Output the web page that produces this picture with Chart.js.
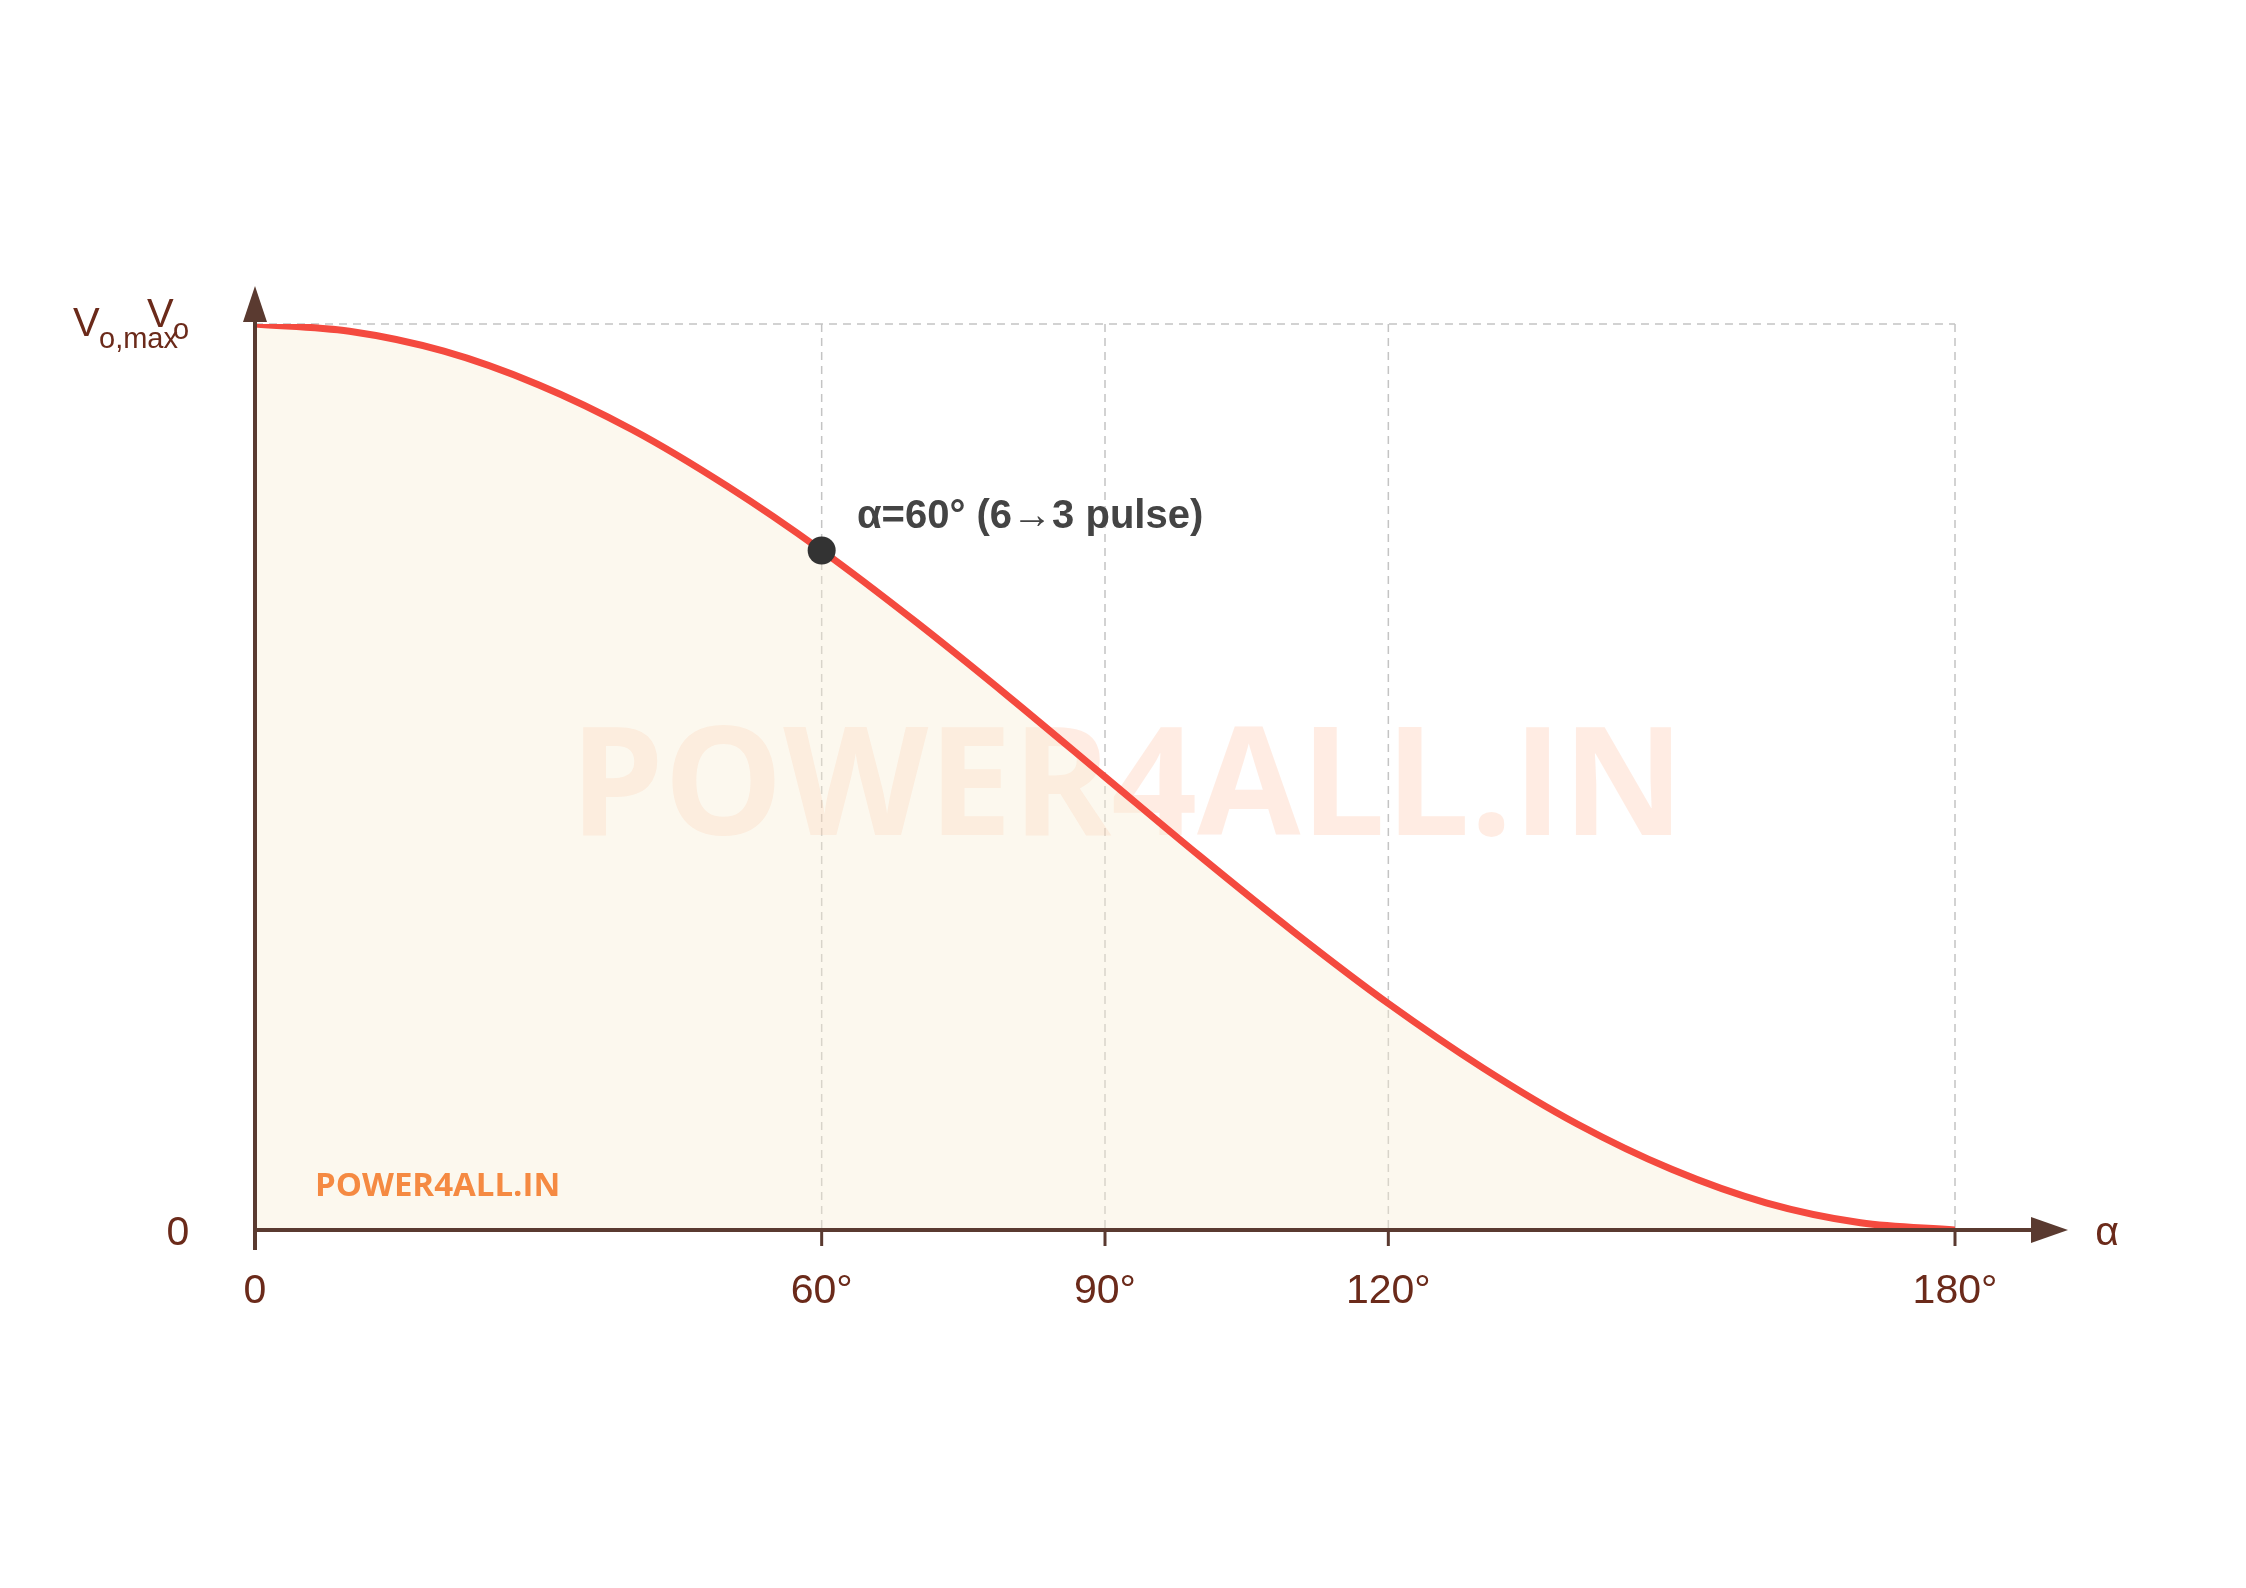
<!DOCTYPE html>
<html><head><meta charset="utf-8">
<script src="https://cdn.jsdelivr.net/npm/chart.js@4.4.0/dist/chart.umd.min.js"></script>
<style>html,body{margin:0;padding:0;background:#fff}</style></head>
<body><canvas id="c" width="2246" height="1588"></canvas>
<script>
const alphaDeg = [0,10,20,30,40,50,60,70,80,90,100,110,120,130,140,150,160,170,180];
const voRatio = [1,0.992,0.970,0.933,0.883,0.821,0.75,0.671,0.587,0.5,0.413,0.329,0.25,0.179,0.117,0.067,0.030,0.008,0];
const xTicks = [0,60,90,120,180];
const xTickLabels = ['0','60°','90°','120°','180°'];
const markAlpha = 60, markValue = 0.75;
const markLabel = 'α=60° (6→3 pulse)';

const brown = '#5a3a30', txt = '#6b2a1a';
const deco = {
  id:'deco',
  beforeDatasetsDraw(ch){
    const c=ch.ctx, xs=ch.scales.x, ys=ch.scales.y;
    c.save();
    c.strokeStyle='#c4c4c4'; c.lineWidth=1.5; c.setLineDash([8,6]);
    const yt=ys.getPixelForValue(1), yb=ys.getPixelForValue(0);
    xTicks.forEach(v=>{const x=xs.getPixelForValue(v); c.beginPath(); c.moveTo(x,yt); c.lineTo(x,yb); c.stroke();});
    c.beginPath(); c.moveTo(xs.getPixelForValue(0),yt); c.lineTo(xs.getPixelForValue(180),yt); c.stroke();
    c.setLineDash([]);
    c.fillStyle='rgba(255,140,90,0.17)';
    c.font='bold 150px "Open Sans", sans-serif';
    c.textAlign='center'; c.textBaseline='middle';
    c.fillText('POWER4ALL.IN',1127,792);
    c.restore();
  },
  afterDraw(ch){
    const c=ch.ctx, xs=ch.scales.x, ys=ch.scales.y;
    const x0=xs.getPixelForValue(0), y0=ys.getPixelForValue(0);
    c.save();
    c.strokeStyle=brown; c.fillStyle=brown; c.lineWidth=4;
    c.beginPath(); c.moveTo(x0,y0); c.lineTo(2045,y0); c.stroke();
    c.beginPath(); c.moveTo(2068,y0); c.lineTo(2031,y0-13); c.lineTo(2031,y0+13); c.closePath(); c.fill();
    c.beginPath(); c.moveTo(x0,y0+20); c.lineTo(x0,310); c.stroke();
    c.beginPath(); c.moveTo(x0,286); c.lineTo(x0-12,322); c.lineTo(x0+12,322); c.closePath(); c.fill();
    c.lineWidth=3;
    xTicks.forEach(v=>{const x=xs.getPixelForValue(v); c.beginPath(); c.moveTo(x,y0); c.lineTo(x,y0+16); c.stroke();});
    c.fillStyle=txt; c.textBaseline='middle';
    c.font='41px "Liberation Sans", sans-serif';
    c.textAlign='center';
    xTicks.forEach((v,i)=>c.fillText(xTickLabels[i],xs.getPixelForValue(v),1292));
    c.fillText('α',2107,1234); c.fillText('0',178,1234);
    c.textAlign='left';
    c.font='40px "Liberation Sans", sans-serif';
    c.fillText('V',73,325); c.font='29px "Liberation Sans", sans-serif'; c.fillText('o,max',99,340);
    c.font='40px "Liberation Sans", sans-serif'; c.fillText('V',147,316);
    c.font='29px "Liberation Sans", sans-serif'; c.fillText('o',173,331);
    const mx=xs.getPixelForValue(markAlpha), my=ys.getPixelForValue(markValue);
    c.fillStyle='#333'; c.beginPath(); c.arc(mx,my,14,0,Math.PI*2); c.fill();
    c.fillStyle='#444'; c.font='bold 40px "Liberation Sans", sans-serif';
    c.fillText(markLabel,857,517);
    c.fillStyle='#f58a42'; c.font='bold 33px "Open Sans", sans-serif';
    c.fillText('POWER4ALL.IN',315,1187);
    c.restore();
  }
};
new Chart(document.getElementById('c'),{
  type:'line',
  data:{datasets:[{data:alphaDeg.map((a,i)=>({x:a,y:voRatio[i]})),
    borderColor:'#f44a3f',borderWidth:7,pointRadius:0,cubicInterpolationMode:'monotone',
    fill:'origin',backgroundColor:'rgba(248,238,212,0.4)'}]},
  options:{responsive:false,animation:false,
    layout:{padding:{left:255,right:291,top:324,bottom:358}},
    plugins:{legend:{display:false},tooltip:{enabled:false}},
    scales:{
      x:{type:'linear',min:0,max:180,display:true,
        afterFit(s){s.height=0;},
        ticks:{display:false},border:{display:false},grid:{display:false}},
      y:{min:0,max:1,afterFit(s){s.width=0;},
        ticks:{display:false},border:{display:false},grid:{display:false}}
    }
  },
  plugins:[deco]
});
</script>
</body></html>
